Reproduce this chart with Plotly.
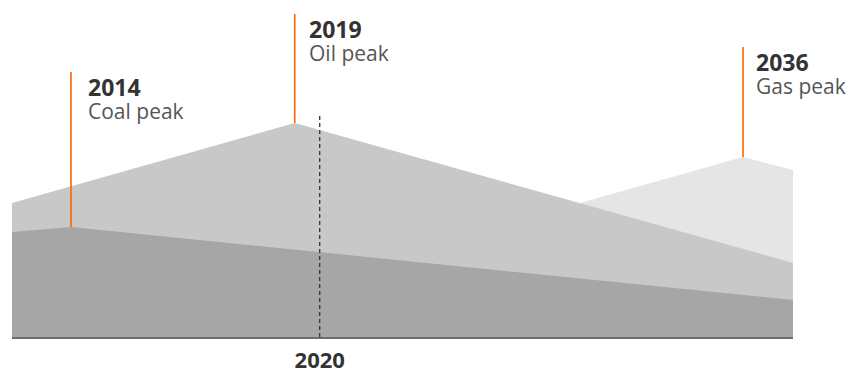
import plotly.graph_objects as go

# Schematic timeline positions (0 = start of chart, 100 = end of chart)
coal_x = [0, 7.55, 100]
coal_y = [42.0, 44.0, 14.8]
oil_x = [0, 36.2, 100]
oil_y = [53.6, 85.6, 29.6]
gas_x = [72.7, 93.6, 100]
gas_y = [53.6, 72.0, 66.8]

peak_years = ["2014", "2019", "2036"]
peak_labels = ["Coal peak", "Oil peak", "Gas peak"]
today_label = "2020"
today_x = 39.4

# layout helpers (not data)
marker_tops = [106.0, 129.2, 116.0]
text_shifts = [15, 12, 11]
today_top = 89.6

COAL, OIL, GAS = "#a6a6a6", "#c8c8c8", "#e5e5e5"
ORANGE = "#ff6200"
FONT = "Open Sans"

fig = go.Figure()
for xs, ys, col in [(gas_x, gas_y, GAS), (oil_x, oil_y, OIL), (coal_x, coal_y, COAL)]:
    fig.add_trace(go.Scatter(x=xs, y=ys, mode="lines", fill="tozeroy",
                             fillcolor=col, line=dict(width=0, color=col),
                             hoverinfo="skip", showlegend=False))

peaks = [
    (coal_x[coal_y.index(max(coal_y))], max(coal_y)),
    (oil_x[oil_y.index(max(oil_y))], max(oil_y)),
    (gas_x[gas_y.index(max(gas_y))], max(gas_y)),
]

shapes = []
annotations = []
for (px, py), top, xs, yr, lab in zip(peaks, marker_tops, text_shifts, peak_years, peak_labels):
    shapes.append(dict(type="line", x0=px, x1=px, y0=py, y1=top, xref="x", yref="y",
                       line=dict(color=ORANGE, width=1.6)))
    annotations.append(dict(x=px, y=top, xref="x", yref="y", xanchor="left", yanchor="top",
                            xshift=xs, yshift=3, showarrow=False, align="left",
                            text=f"<b>{yr}</b>",
                            font=dict(family=FONT, size=23, color="#333333")))
    annotations.append(dict(x=px, y=top, xref="x", yref="y", xanchor="left", yanchor="top",
                            xshift=xs, yshift=-23, showarrow=False, align="left",
                            text=lab,
                            font=dict(family=FONT, size=21, color="#555555")))

shapes.append(dict(type="line", x0=today_x, x1=today_x, y0=0, y1=today_top, xref="x", yref="y",
                   line=dict(color="#333333", width=1.3, dash="4px,3px")))

fig.update_layout(
    width=851, height=371,
    margin=dict(l=12, r=58, t=0, b=34),
    paper_bgcolor="white", plot_bgcolor="white",
    shapes=shapes, annotations=annotations,
    xaxis=dict(range=[0, 100], showgrid=False, zeroline=False, showline=True,
               linecolor="#6e6e6e", linewidth=2, ticks="", automargin=False,
               tickvals=[today_x], ticktext=[f"<b>{today_label}</b>"],
               ticklabelstandoff=3,
               tickfont=dict(family=FONT, size=22, color="#333333")),
    yaxis=dict(range=[0, 134.8], showgrid=False, zeroline=False, showticklabels=False,
               showline=False, automargin=False),
)

fig.write_html("out.html")
